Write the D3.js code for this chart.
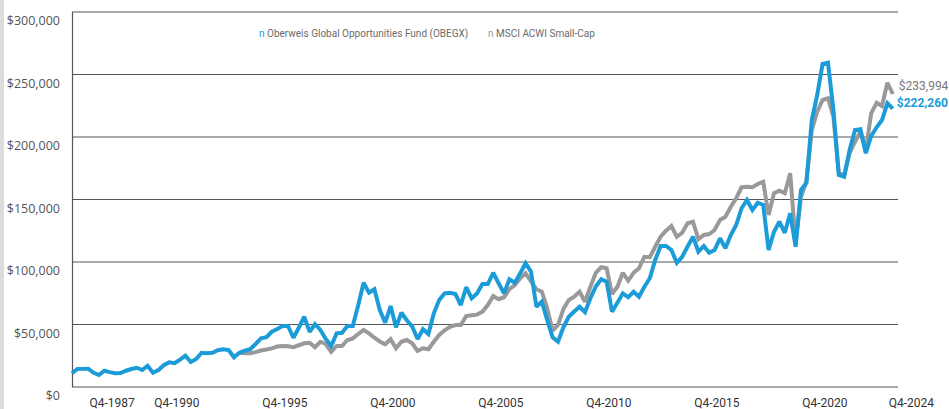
<!DOCTYPE html>
<html lang="en">
<head>
<meta charset="utf-8">
<title>Growth of a hypothetical investment</title>
<script src="https://d3js.org/d3.v7.min.js"></script>
<style>
  body { margin: 0; background: #fff; }
  svg { display: block; }
</style>
</head>
<body>
<div id="chart"></div>
<script>

// quarterly values, $ thousands, first point is Q4-1986
var startYear = 1986;
var fundValues = [
  10.6, 14, 14.1, 14.2, 11, 9.2, 12.6, 11.5, 10.6, 10.8,
  12.6, 14, 15, 13.2, 16.6, 11, 13.2, 17, 19.4, 18.6,
  21.5, 24.6, 19.6, 22, 27, 26.6, 27, 29, 29.8, 29.2,
  23.4, 27, 28.6, 29.8, 34, 38.5, 39.4, 43.8, 46, 48.4,
  48.4, 39, 47, 55.8, 43.8, 49.8, 45.2, 38, 32.4, 42.5,
  43, 48.4, 48.4, 65, 83, 75, 77.8, 61.2, 51, 64.4,
  47.4, 59, 53, 48, 38, 45.8, 42, 58.5, 69.2, 74.5,
  75, 74, 65.2, 79.4, 70.6, 74.5, 82, 82, 91, 82.6,
  74.5, 85.8, 83, 90.6, 98.6, 91.8, 63.8, 67.8, 53.2, 39.4,
  35.8, 47.4, 55.8, 60, 63.8, 59.5, 70.6, 80, 85.8, 83.8,
  59.8, 67, 74.5, 71.4, 75.8, 71.8, 79.8, 86.6, 101.2, 112.4,
  112.4, 109.2, 99, 103.8, 112, 119.8, 107.8, 112.4, 107, 109.2,
  118.6, 110.6, 121.2, 129.2, 142.6, 149.2, 141.2, 147, 145.2, 109.2,
  123.8, 131.8, 123, 138.6, 111.8, 157.2, 163, 213.2, 233.2, 258,
  259, 221.2, 169.2, 167.8, 189.2, 205.2, 205.8, 186.6, 200.4, 207.4,
  213.2, 226.6, 222.26
];

// index starts later (null before it exists)
var msciValues = [
  null, null, null, null, null, null, null, null, null, null,
  null, null, null, null, null, null, null, null, null, null,
  null, null, null, null, null, null, null, null, null, null,
  null, 27, 26.6, 26.6, 27.5, 28.8, 29.6, 30.5, 32, 32.4,
  32.2, 31.4, 33, 34.6, 35, 31.4, 35.8, 34, 27.8, 32.4,
  32.4, 37.2, 38.5, 42, 45.2, 42.5, 39, 36, 33.8, 37.8,
  30.6, 35.8, 37.2, 34.6, 28.5, 30.6, 29.8, 35.8, 41.2, 45,
  47.8, 49.2, 49.2, 56.4, 57, 57.5, 59.8, 65.2, 72.4, 69.8,
  71.4, 77.8, 81.2, 86.6, 90.6, 84, 77.8, 75.8, 62.6, 44.6,
  49.2, 62, 69.2, 71.8, 75.8, 67.8, 79.8, 91, 95.4, 94.6,
  74, 79.8, 91, 84.6, 91, 94.6, 103.8, 103.4, 111.8, 119.8,
  124.6, 128.4, 119.8, 123, 130.6, 131.8, 117.8, 121.2, 122, 125.2,
  133.2, 135.8, 143.8, 150.6, 159.4, 159.8, 159.4, 162, 163.8, 137.2,
  154.6, 156.6, 154.6, 170.6, 115, 151.8, 163.8, 205.2, 219.8, 229.2,
  230.6, 215.8, 170.6, 169, 186.6, 195.8, 203.8, 189.2, 218.6, 227,
  224.4, 243, 233.994
];

var seriesNames = ["Oberweis Global Opportunities Fund (OBEGX)", "MSCI ACWI Small-Cap"];
var endLabels = ["$222,260", "$233,994"];
var xTickLabels = ["Q4-1987", "Q4-1990", "Q4-1995", "Q4-2000", "Q4-2005", "Q4-2010", "Q4-2015", "Q4-2020", "Q4-2024"];
var yTicks = [0, 50000, 100000, 150000, 200000, 250000, 300000];

var blue = "#1b9bd7", grey = "#999999", gridColor = "#555555";

var svg = d3.select("#chart")
  .append("svg")
    .attr("width", 949)
    .attr("height", 409);

// light strip at the far left edge
svg.append("rect")
    .attr("x", 0).attr("y", 0)
    .attr("width", 4).attr("height", 409)
    .style("fill", "#dcdcdc");

var plotLeft = 72, plotRight = 898, plotTop = 11.5, plotBottom = 386.5;

var x = d3.scaleLinear()
  .domain([0, fundValues.length - 1])
  .range([plotLeft, 892.8]);

var y = d3.scaleLinear()
  .domain([0, 300000])
  .range([plotBottom, plotTop]);

// Y axis + horizontal grid
var yAxis = svg.append("g")
    .attr("transform", "translate(" + plotLeft + ",0)")
    .call(d3.axisLeft(y)
      .tickValues(yTicks)
      .tickSize(-(plotRight - plotLeft))
      .tickSizeOuter(0)
      .tickPadding(12)
      .tickFormat(d3.format("$,")));

yAxis.select(".domain").attr("stroke", gridColor).attr("stroke-width", 1.2);
yAxis.selectAll(".tick line").attr("stroke", gridColor).attr("stroke-width", 1.2);
yAxis.selectAll(".tick text")
    .attr("y", 9)
    .style("font-family", "'Open Sans', sans-serif")
    .style("font-size", "12.5px")
    .style("fill", "#555");

// X axis labels (sit a bit right of their quarter)
function quarterIndex(label) {
  return (+label.slice(3) - startYear) * 4;
}

var xAxis = svg.append("g")
    .attr("transform", "translate(0," + plotBottom + ")")
    .call(d3.axisBottom(x)
      .tickValues(xTickLabels.map(quarterIndex))
      .tickSize(0)
      .tickFormat(function(d, i) { return xTickLabels[i]; }));

xAxis.select(".domain").remove();
xAxis.selectAll(".tick text")
    .attr("x", 18)
    .attr("y", 20)
    .attr("dy", "0")
    .style("font-family", "Roboto, sans-serif")
    .style("font-size", "12px")
    .style("fill", "#333");

// lines
var line = d3.line()
  .defined(function(d) { return d != null; })
  .x(function(d, i) { return x(i); })
  .y(function(d) { return y(d * 1000); });

svg.append("path")
    .datum(msciValues)
    .attr("d", line)
    .attr("fill", "none")
    .attr("stroke", grey)
    .attr("stroke-width", 4)
    .attr("stroke-linejoin", "miter")
    .attr("stroke-miterlimit", 2);

svg.append("path")
    .datum(fundValues)
    .attr("d", line)
    .attr("fill", "none")
    .attr("stroke", blue)
    .attr("stroke-width", 4)
    .attr("stroke-linejoin", "miter")
    .attr("stroke-miterlimit", 2);

// end values
var last = fundValues.length - 1;
svg.append("text")
    .attr("x", x(last) + 6)
    .attr("y", y(msciValues[last] * 1000) - 8)
    .attr("dy", "0.35em")
    .text(endLabels[1])
    .style("font-family", "Roboto, sans-serif")
    .style("font-size", "12px")
    .style("fill", "#777");

svg.append("text")
    .attr("x", x(last) + 4)
    .attr("y", y(fundValues[last] * 1000) - 6)
    .attr("dy", "0.35em")
    .text(endLabels[0])
    .style("font-family", "Roboto, sans-serif")
    .style("font-size", "12px")
    .style("font-weight", "bold")
    .style("fill", blue);

// handmade legend
var legend = svg.append("text")
    .attr("x", 259)
    .attr("y", 37)
    .style("font-family", "Roboto, sans-serif")
    .style("font-size", "10px")
    .style("fill", "#6b6b6b");
legend.append("tspan").text("n ").style("fill", blue);
legend.append("tspan").text(seriesNames[0]);
legend.append("tspan").attr("x", 488).text("n ").style("fill", grey);
legend.append("tspan").text(seriesNames[1]);

</script>
</body>
</html>
